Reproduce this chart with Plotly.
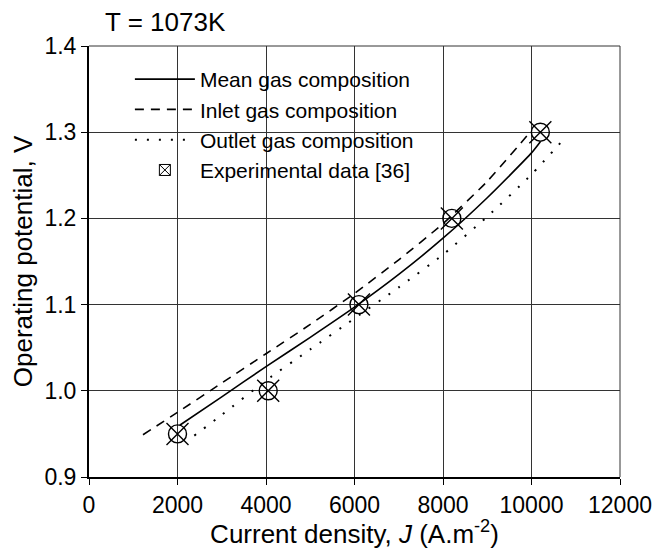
import plotly.graph_objects as go

# ---- data ----
mean_x = [2050, 3000, 4000, 5000, 6000, 7000, 8000, 9000, 10000, 10200]
mean_y = [0.960, 0.993, 1.028, 1.062, 1.097, 1.135, 1.177, 1.224, 1.276, 1.289]

inlet_x = [1220, 2000, 3000, 4000, 5000, 6000, 7000, 8000, 9000, 10000]
inlet_y = [0.949, 0.975, 1.009, 1.043, 1.077, 1.113, 1.152, 1.194, 1.243, 1.302]

outlet_x = [2380, 3000, 4000, 5000, 6000, 7000, 8000, 9000, 10000, 10750]
outlet_y = [0.948, 0.972, 1.012, 1.048, 1.084, 1.120, 1.158, 1.202, 1.251, 1.293]

exp_x = [2000, 4050, 6100, 8200, 10200]
exp_y = [0.95, 1.00, 1.10, 1.20, 1.30]

x_ticks = [0, 2000, 4000, 6000, 8000, 10000, 12000]
y_ticks = [0.9, 1.0, 1.1, 1.2, 1.3, 1.4]
y_tick_text = ["0.9", "1.0", "1.1", "1.2", "1.3", "1.4"]

FONT = "Liberation Sans, Arial, sans-serif"

fig = go.Figure()
fig.add_trace(go.Scatter(x=mean_x, y=mean_y, mode="lines", name="Mean gas composition",
                         line=dict(color="black", width=1.6, shape="spline", smoothing=0.6)))
fig.add_trace(go.Scatter(x=inlet_x, y=inlet_y, mode="lines", name="Inlet gas composition",
                         line=dict(color="black", width=1.6, dash="9px,7px", shape="spline", smoothing=0.6)))
fig.add_trace(go.Scatter(x=outlet_x, y=outlet_y, mode="lines", name="Outlet gas composition",
                         line=dict(color="black", width=2, dash="2px,10px", shape="spline", smoothing=0.6)))
fig.add_trace(go.Scatter(x=exp_x, y=exp_y, mode="markers", showlegend=False,
                         marker=dict(symbol="circle-open", size=18, color="black",
                                     line=dict(width=1.4, color="black"))))
fig.add_trace(go.Scatter(x=exp_x, y=exp_y, mode="markers", showlegend=False,
                         marker=dict(symbol="x-thin-open", size=22, color="black",
                                     line=dict(width=1.4, color="black"))))
fig.add_trace(go.Scatter(x=[None], y=[None], mode="markers", name="Experimental data [36]",
                         marker=dict(symbol="square-x-open", size=11, color="black",
                                     line=dict(width=1, color="black"))))

# white area behind legend (hides grid lines)
fig.add_shape(type="rect", xref="paper", yref="paper", x0=0.0245, x1=0.672, y0=0.643, y1=0.984,
              fillcolor="white", line=dict(width=0), layer="between")

fig.add_annotation(text="T = 1073K", xref="paper", yref="paper", x=0.145, y=1.056,
                   showarrow=False, font=dict(family=FONT, size=26, color="black"),
                   xanchor="center", yanchor="middle")

fig.update_layout(
    width=657, height=549,
    margin=dict(l=89, r=37, t=46, b=72, autoexpand=False),
    paper_bgcolor="white", plot_bgcolor="white",
    font=dict(family=FONT, size=23, color="black"),
    showlegend=True,
    legend=dict(x=0.077, y=0.97, xanchor="left", yanchor="top",
                bgcolor="rgba(0,0,0,0)", borderwidth=0,
                font=dict(family=FONT, size=21, color="black"),
                itemwidth=60, tracegroupgap=0),
    xaxis=dict(range=[0, 12000], tickvals=x_ticks, ticktext=[str(v) for v in x_ticks],
               showgrid=True, gridcolor="#333333", gridwidth=1, automargin=False,
               showline=True, linecolor="black", linewidth=2, mirror=False,
               ticks="outside", ticklen=6, tickcolor="black", zeroline=False,
               tickfont=dict(size=23),
               title=dict(text="Current density, <i>J</i> (A.m<sup>-2</sup>)", standoff=6,
                          font=dict(size=26))),
    yaxis=dict(range=[0.9, 1.4], tickvals=y_ticks, ticktext=y_tick_text,
               showgrid=True, gridcolor="#333333", gridwidth=1, automargin=False,
               showline=True, linecolor="black", linewidth=2, mirror=False,
               ticks="outside", ticklen=6, tickcolor="black", zeroline=False,
               tickfont=dict(size=23),
               title=dict(text="Operating potential, V", standoff=4, font=dict(size=26))),
)
# thin top and right border
fig.add_shape(type="line", xref="paper", yref="paper", x0=0, x1=1, y0=1, y1=1,
              line=dict(color="#333333", width=1))
fig.add_shape(type="line", xref="paper", yref="paper", x0=1, x1=1, y0=0, y1=1,
              line=dict(color="#333333", width=1))

fig.write_html("out.html")
